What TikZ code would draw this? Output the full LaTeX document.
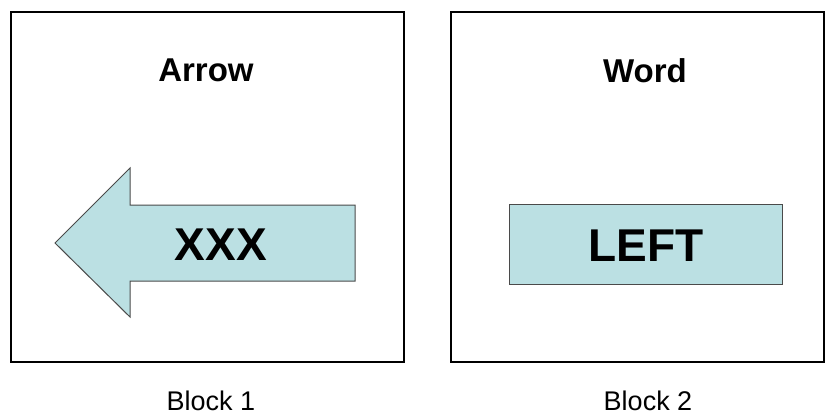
\documentclass[tikz,border=0pt]{standalone}
\usepackage{fontspec}
\setmainfont{Liberation Sans}
\definecolor{fillblue}{HTML}{BBE0E3}
\definecolor{shapeedge}{HTML}{4A4A4A}
\tikzset{
  outerbox/.style={draw=black, line width=1.5pt},
  shapefill/.style={fill=fillblue, draw=shapeedge, line width=1pt},
  title/.style={font=\fontsize{33}{35}\selectfont\bfseries, inner sep=0pt, anchor=base},
  big/.style={font=\fontsize{46}{48}\selectfont\bfseries, inner sep=0pt, anchor=base},
  caption/.style={font=\fontsize{27}{29}\selectfont, inner sep=0pt, anchor=base}
}
\begin{document}
\begin{tikzpicture}[x=1pt,y=-1pt]
\useasboundingbox (0,0) rectangle (825,416);
% Block 1
\draw[outerbox] (11,12) rectangle (404,362);
\node[title] (t1) at (206,81) {Arrow};
\draw[shapefill] (55,243) -- (130,168) -- (130,205) -- (355,205) -- (355,281) -- (130,281) -- (130,317) -- cycle;
\node[big] (x1) at (221,260) {XXX};
\node[caption] (c1) at (211,410) {Block 1};
% Block 2
\draw[outerbox] (451,12) rectangle (824,362);
\node[title] (t2) at (645,82) {Word};
\draw[shapefill] (509,204) rectangle (782,284);
\node[big] (x2) at (646,261) {LEFT};
\node[caption] (c2) at (648,410) {Block 2};
\end{tikzpicture}
\end{document}
